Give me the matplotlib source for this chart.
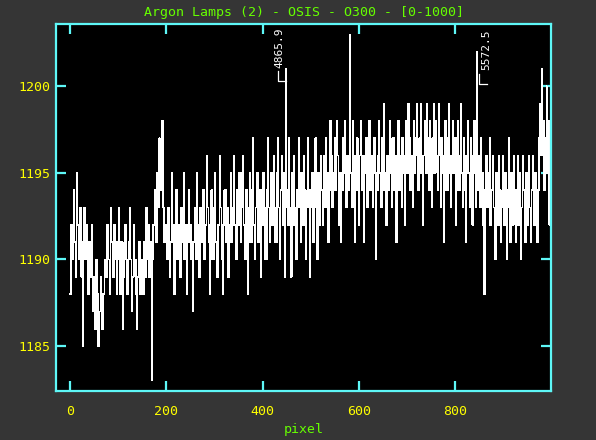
import numpy as np
import matplotlib
matplotlib.use("Agg")
import matplotlib.pyplot as plt

# ---- data (counts per pixel) ----
counts = [
1188,1188,1188,1192,1192,1192,1190,1190,1194,1191,1191,1191,1189,1189,1195,1192,1192,1192,1190,1190,1190,1193,1193,1193,1189,
1191,1191,1185,1191,1193,1193,1193,1190,1190,1190,1192,1192,1188,1188,1188,1191,1191,1191,1189,1189,1189,1192,1187,1187,1189,
1189,1189,1186,1186,1186,1190,1188,1188,1188,1185,1185,1187,1187,1187,1189,1189,1186,1186,1186,1188,1188,1188,1190,1190,1190,
1189,1189,1189,1192,1192,1190,1190,1190,1188,1188,1193,1191,1191,1191,1189,1189,1189,1192,1192,1190,1190,1190,1188,1191,1191,
1191,1193,1190,1190,1190,1188,1188,1191,1191,1191,1186,1189,1189,1189,1192,1192,1192,1190,1190,1188,1188,1188,1191,1191,1193,
1190,1190,1190,1187,1187,1189,1189,1189,1192,1190,1190,1190,1188,1188,1186,1189,1189,1189,1191,1191,1191,1188,1188,1190,1190,
1190,1188,1188,1188,1191,1191,1191,1189,1189,1193,1190,1190,1190,1192,1192,1189,1189,1189,1191,1191,1183,1190,1190,1192,1192,
1192,1194,1194,1194,1191,1191,1195,1195,1195,1193,1193,1197,1194,1194,1194,1196,1196,1198,1193,1193,1193,1191,1191,1192,1192,
1192,1190,1190,1190,1193,1193,1193,1189,1189,1191,1191,1191,1195,1192,1192,1192,1188,1188,1191,1191,1191,1194,1194,1190,1190,
1190,1192,1192,1192,1189,1189,1193,1193,1193,1191,1191,1195,1190,1190,1190,1192,1192,1192,1188,1191,1191,1191,1194,1194,1192,
1192,1192,1190,1190,1190,1187,1191,1191,1191,1193,1193,1193,1190,1190,1195,1192,1192,1192,1189,1189,1189,1193,1193,1191,1191,
1191,1194,1194,1194,1190,1190,1192,1192,1192,1196,1193,1193,1193,1191,1191,1188,1192,1192,1192,1194,1194,1190,1190,1190,1193,
1193,1193,1195,1191,1191,1191,1189,1189,1192,1192,1192,1196,1193,1193,1193,1190,1190,1188,1192,1192,1192,1194,1194,1194,1191,
1191,1193,1193,1193,1189,1189,1192,1192,1192,1195,1191,1191,1191,1193,1193,1196,1192,1192,1192,1190,1190,1190,1194,1194,1192,
1192,1192,1195,1195,1195,1191,1191,1193,1193,1193,1196,1192,1192,1192,1190,1190,1194,1194,1194,1192,1188,1193,1193,1193,1195,
1191,1191,1191,1194,1194,1197,1192,1192,1192,1190,1190,1193,1193,1193,1195,1195,1191,1191,1191,1194,1194,1194,1189,1192,1192,
1192,1195,1195,1195,1193,1193,1190,1190,1190,1194,1194,1197,1193,1193,1193,1191,1191,1195,1195,1195,1192,1192,1192,1196,1193,
1193,1193,1191,1191,1191,1195,1195,1197,1193,1193,1193,1190,1190,1194,1194,1194,1196,1192,1192,1192,1195,1195,1189,1193,1201,
1194,1194,1194,1192,1192,1197,1193,1193,1193,1189,1189,1195,1195,1195,1192,1192,1196,1193,1193,1193,1190,1190,1194,1194,1194,
1197,1193,1193,1193,1191,1191,1195,1195,1195,1192,1192,1196,1194,1194,1194,1190,1190,1193,1193,1193,1197,1194,1194,1194,1189,
1193,1193,1195,1195,1195,1191,1191,1194,1194,1194,1197,1193,1193,1193,1190,1190,1195,1195,1195,1192,1192,1196,1194,1194,1194,
1192,1192,1196,1196,1196,1193,1193,1197,1195,1195,1195,1191,1191,1194,1194,1194,1198,1196,1196,1196,1193,1193,1195,1195,1195,
1197,1194,1194,1194,1198,1196,1196,1196,1192,1192,1195,1195,1195,1191,1194,1194,1194,1197,1197,1195,1195,1195,1198,1193,1193,
1193,1196,1196,1196,1194,1194,1197,1203,1195,1195,1195,1193,1193,1198,1196,1196,1196,1191,1194,1194,1194,1197,1197,1195,1195,
1195,1192,1196,1196,1196,1198,1194,1194,1194,1196,1196,1191,1195,1195,1195,1197,1197,1193,1193,1193,1196,1196,1198,1194,1194,
1194,1196,1196,1196,1193,1193,1197,1197,1197,1195,1195,1190,1194,1194,1194,1196,1196,1198,1195,1195,1195,1193,1193,1197,1197,
1197,1194,1194,1199,1195,1195,1195,1192,1192,1196,1196,1196,1194,1194,1198,1195,1195,1195,1193,1193,1197,1197,1197,1194,1194,
1196,1196,1196,1191,1195,1195,1195,1198,1198,1194,1194,1194,1196,1196,1193,1197,1197,1197,1195,1195,1192,1196,1196,1196,1198,
1195,1195,1195,1199,1197,1197,1197,1194,1194,1196,1196,1196,1193,1193,1198,1195,1195,1195,1197,1197,1199,1196,1196,1196,1194,
1194,1197,1197,1197,1199,1195,1195,1195,1192,1196,1196,1196,1198,1198,1195,1195,1195,1199,1197,1197,1197,1194,1194,1198,1196,
1196,1196,1193,1197,1197,1197,1199,1195,1195,1195,1198,1196,1196,1196,1194,1194,1199,1196,1196,1196,1193,1197,1197,1197,1195,
1195,1191,1196,1196,1196,1198,1198,1194,1194,1194,1197,1197,1199,1195,1195,1195,1193,1196,1196,1196,1198,1195,1195,1195,1197,
1197,1197,1192,1195,1195,1195,1198,1194,1194,1194,1196,1196,1199,1195,1195,1195,1193,1193,1197,1194,1194,1194,1191,1196,1196,
1196,1198,1195,1195,1195,1193,1193,1197,1194,1194,1194,1192,1196,1196,1196,1198,1195,1195,1195,1193,1202,1194,1194,1196,1196,
1196,1193,1193,1193,1197,1195,1195,1195,1192,1192,1194,1188,1194,1194,1196,1196,1196,1193,1193,1195,1195,1195,1197,1192,1192,
1192,1194,1194,1194,1196,1193,1193,1193,1190,1190,1195,1195,1195,1192,1192,1192,1196,1194,1194,1194,1191,1191,1193,1193,1193,
1196,1192,1192,1192,1195,1195,1195,1190,1194,1194,1194,1197,1193,1193,1193,1191,1191,1195,1195,1195,1192,1192,1196,1193,1193,
1193,1191,1194,1194,1194,1196,1192,1192,1192,1195,1195,1190,1193,1193,1193,1196,1196,1194,1194,1194,1191,1191,1195,1195,1195,
1192,1192,1192,1196,1193,1193,1193,1191,1191,1194,1194,1194,1196,1192,1192,1192,1195,1195,1195,1193,1193,1191,1194,1194,1194,
1197,1197,1199,1196,1196,1196,1201,1198,1198,1198,1194,1194,1197,1197,1197,1200,1195,1195,1195,1198,1198,1192,1196,1196,1196,
]
pixels = np.arange(len(counts))

x_ticks = [0, 200, 400, 600, 800]
y_ticks = [1185, 1190, 1195, 1200]

line_labels = ["4865.9", "5572.5"]
line_pixels = [449, 866]

title = "Argon Lamps (2) - OSIS - O300 - [0-1000]"
xlabel = "pixel"

# ---- style ----
BG = "#353535"
CYAN = "#5ef7f7"
YELLOW = "#ffff00"
GREEN = "#66ff00"
MONO = "DejaVu Sans Mono"

fig = plt.figure(figsize=(5.96, 4.40), dpi=100, facecolor=BG)
ax = fig.add_axes([56/596, 1-391/440, (551-56)/596, (391-24)/440])
ax.set_facecolor("black")

ax.plot(pixels, counts, color="white", lw=0.5, drawstyle="steps-mid",
        antialiased=False)

ax.set_xlim(-29, 999)
ax.set_ylim(1182.4, 1203.6)
ax.set_xticks(x_ticks)
ax.set_yticks(y_ticks)

for s in ax.spines.values():
    s.set_color(CYAN)
    s.set_linewidth(1.6)

ax.tick_params(axis="both", which="major", direction="in", length=7, width=1.6,
               color=CYAN, top=True, right=True, labelcolor=YELLOW, labelsize=9.5)
ax.tick_params(axis="x", pad=10)
ax.tick_params(axis="y", pad=4)
for lab in ax.get_xticklabels() + ax.get_yticklabels():
    lab.set_fontfamily(MONO)

ax.set_title(title, color=GREEN, fontsize=9.5, family=MONO, pad=6)
ax.set_xlabel(xlabel, color=GREEN, fontsize=9.5, family=MONO, labelpad=4)

# line identification markers
px_per_x = 0.4815
px_per_y = 17.33
tick_bottoms = [1200.33, 1200.15]
text_dx_px = [1, 7]
text_bottoms = [1201.08, 1200.92]
for lbl, xp, yb, dx, tb in zip(line_labels, line_pixels, tick_bottoms,
                               text_dx_px, text_bottoms):
    x_left = xp - 8 / px_per_x
    y_top = yb + 10 / px_per_y
    ax.plot([x_left, x_left, xp], [y_top, yb, yb], color="white", lw=0.9)
    ax.text(x_left + dx / px_per_x, tb, lbl, rotation=90,
            ha="center", va="bottom", color="white", fontsize=8, family=MONO)

fig.savefig("out.png", dpi=100, facecolor=BG)
